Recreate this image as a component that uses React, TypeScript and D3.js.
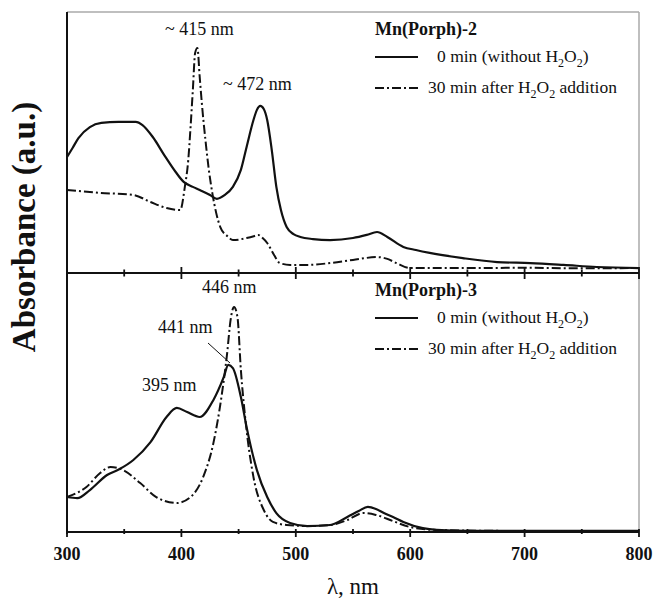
import React from "react";
import * as d3 from "d3";

// ---- Data (wavelength nm, absorbance a.u.) ----
const p2SolidX = [300, 305, 310, 320, 330, 345, 360, 366, 375, 385, 395, 402, 410, 416, 425, 431, 438, 445, 452, 457, 463, 466, 469, 472, 475, 479, 483, 487, 492, 498, 504, 515, 530, 550, 562, 571, 580, 594, 605, 617, 646, 676, 705, 734, 763, 800];
const p2SolidY = [0.444, 0.48, 0.517, 0.559, 0.575, 0.579, 0.579, 0.567, 0.521, 0.452, 0.387, 0.349, 0.33, 0.318, 0.299, 0.284, 0.299, 0.33, 0.395, 0.483, 0.586, 0.625, 0.64, 0.628, 0.586, 0.471, 0.33, 0.241, 0.176, 0.149, 0.138, 0.13, 0.126, 0.134, 0.146, 0.157, 0.138, 0.1, 0.088, 0.077, 0.057, 0.042, 0.038, 0.031, 0.023, 0.019];

const p2DashX = [300, 329, 358, 373, 387, 399, 403, 406, 408, 410, 412, 414, 416, 418, 421, 424, 427, 434, 440, 445, 457, 464, 467, 471, 475, 481, 486, 495, 510, 530, 550, 571, 580, 588, 600, 650, 700, 750, 800];
const p2DashY = [0.318, 0.307, 0.299, 0.272, 0.249, 0.241, 0.33, 0.433, 0.559, 0.701, 0.843, 0.862, 0.751, 0.644, 0.51, 0.395, 0.307, 0.176, 0.142, 0.126, 0.134, 0.142, 0.146, 0.134, 0.115, 0.069, 0.038, 0.031, 0.031, 0.038, 0.05, 0.061, 0.054, 0.038, 0.019, 0.019, 0.02, 0.018, 0.019];

const p3SolidX = [300, 309, 320, 335, 346, 358, 373, 387, 396, 405, 416, 428, 437, 441, 445, 452, 457, 466, 475, 483, 495, 510, 530, 545, 555, 563, 570, 577, 585, 594, 611, 623, 650, 700, 750, 800];
const p3SolidY = [0.135, 0.131, 0.162, 0.22, 0.243, 0.278, 0.347, 0.444, 0.479, 0.463, 0.444, 0.51, 0.598, 0.645, 0.633, 0.521, 0.405, 0.239, 0.135, 0.073, 0.035, 0.023, 0.027, 0.058, 0.081, 0.097, 0.089, 0.073, 0.058, 0.039, 0.015, 0.008, 0.004, 0.004, 0.004, 0.004];

const p3DashX = [300, 317, 329, 338, 349, 364, 378, 396, 408, 419, 428, 435, 440, 443, 446, 449, 452, 456, 463, 472, 480, 492, 510, 530, 545, 559, 570, 585, 600, 623, 700, 800];
const p3DashY = [0.135, 0.174, 0.228, 0.251, 0.239, 0.189, 0.135, 0.112, 0.135, 0.212, 0.344, 0.521, 0.691, 0.819, 0.869, 0.83, 0.625, 0.432, 0.212, 0.085, 0.039, 0.027, 0.023, 0.027, 0.046, 0.073, 0.066, 0.042, 0.019, 0.008, 0.004, 0.004];

const xTickLabels = [300, 400, 500, 600, 700, 800];
const xMinorTicks = [350, 450, 550, 650, 750];

const panelTitles = ["Mn(Porph)-2", "Mn(Porph)-3"];

const FONT = "'Liberation Serif', 'Times New Roman', serif";

const W = 655;
const H = 598;
const left = 67;
const right = 639;
const top = 12;
const mid = 273;
const bottom = 532;

const x = d3.scaleLinear().domain([300, 800]).range([left, right]);
const yTop = d3.scaleLinear().domain([0, 1]).range([mid, top]);
const yBot = d3.scaleLinear().domain([0, 1]).range([bottom, mid]);

function makePath(xs: number[], ys: number[], y: d3.ScaleLinear<number, number>) {
  const pts: [number, number][] = xs.map((v, i) => [v, ys[i]]);
  const line = d3
    .line<[number, number]>()
    .x((d) => x(d[0]))
    .y((d) => y(d[1]))
    .curve(d3.curveMonotoneX);
  return line(pts) || "";
}

const DASH = "9,3,2,3";

function Legend({ title, ty }: { title: string; ty: number }) {
  return (
    <g fontFamily={FONT} fill="#111">
      <text x={375} y={ty} fontSize={18} fontWeight="bold">{title}</text>
      <line x1={375} x2={418} y1={ty + 22} y2={ty + 22} stroke="#111" strokeWidth={2.2} />
      <text x={437} y={ty + 27} fontSize={17.5}>
        0 min (without H
        <tspan fontSize={12} dy={5}>2</tspan>
        <tspan dy={-5}>O</tspan>
        <tspan fontSize={12} dy={5}>2</tspan>
        <tspan dy={-5}>)</tspan>
      </text>
      <line x1={375} x2={418} y1={ty + 53} y2={ty + 53} stroke="#111" strokeWidth={2.2} strokeDasharray={DASH} />
      <text x={428} y={ty + 58} fontSize={17.5}>
        30 min after H
        <tspan fontSize={12} dy={5}>2</tspan>
        <tspan dy={-5}>O</tspan>
        <tspan fontSize={12} dy={5}>2</tspan>
        <tspan dy={-5}> addition</tspan>
      </text>
    </g>
  );
}

function AxisTicks({ y0, majorUp, majorDown, minorUp, minorDown }: { y0: number; majorUp: number; majorDown: number; minorUp: number; minorDown: number }) {
  return (
    <g stroke="#111" strokeWidth={1.8}>
      {xTickLabels.map((t) => (
        <line key={"M" + t} x1={x(t)} x2={x(t)} y1={y0 - majorUp} y2={y0 + majorDown} />
      ))}
      {xMinorTicks.map((t) => (
        <line key={"m" + t} x1={x(t)} x2={x(t)} y1={y0 - minorUp} y2={y0 + minorDown} />
      ))}
    </g>
  );
}

export default function App() {
  return (
    <svg width={W} height={H} style={{ position: "absolute", left: 0, top: 0, background: "#fff" }}>
      <rect x={0} y={0} width={W} height={H} fill="#fff" />
      {/* frame */}
      <line x1={left} x2={right} y1={top} y2={top} stroke="#aaa" strokeWidth={1.5} />
      <line x1={right} x2={right} y1={top} y2={bottom} stroke="#aaa" strokeWidth={1.5} />

      {/* curves */}
      <g fill="none" stroke="#111" strokeLinejoin="round">
        <path d={makePath(p2SolidX, p2SolidY, yTop)} strokeWidth={2.2} />
        <path d={makePath(p2DashX, p2DashY, yTop)} strokeWidth={2} strokeDasharray={DASH} />
        <path d={makePath(p3SolidX, p3SolidY, yBot)} strokeWidth={2.2} />
        <path d={makePath(p3DashX, p3DashY, yBot)} strokeWidth={2} strokeDasharray={DASH} />
      </g>

      {/* axes */}
      <line x1={left} x2={left} y1={top} y2={bottom + 2} stroke="#111" strokeWidth={2} />
      <line x1={left} x2={right} y1={mid} y2={mid} stroke="#111" strokeWidth={2} />
      <line x1={left} x2={right} y1={bottom} y2={bottom} stroke="#111" strokeWidth={2} />
      <AxisTicks y0={mid} majorUp={6} majorDown={6} minorUp={3.5} minorDown={3.5} />
      <AxisTicks y0={bottom} majorUp={3} majorDown={5} minorUp={3} minorDown={2} />

      {/* tick labels */}
      <g fontFamily={FONT} fontWeight="bold" fontSize={18} textAnchor="middle" fill="#111">
        {xTickLabels.map((t) => (
          <text key={t} x={x(t)} y={560}>{t}</text>
        ))}
      </g>
      <text x={353} y={594} fontFamily={FONT} fontSize={23} textAnchor="middle" fill="#111">λ, nm</text>
      <text
        transform="translate(35,227) rotate(-90)"
        fontFamily={FONT}
        fontWeight="bold"
        fontSize={33}
        textAnchor="middle"
        fill="#111"
      >
        Absorbance (a.u.)
      </text>

      {/* annotations */}
      <g fontFamily={FONT} fontSize={18} fill="#111">
        <text x={165} y={35}>~ 415 nm</text>
        <text x={223} y={90}>~ 472 nm</text>
        <text x={202} y={293}>446 nm</text>
        <text x={158} y={333}>441 nm</text>
        <text x={142} y={391}>395 nm</text>
      </g>
      <line x1={208} y1={343} x2={230} y2={363} stroke="#111" strokeWidth={1} />

      <Legend title={panelTitles[0]} ty={35} />
      <Legend title={panelTitles[1]} ty={296} />
    </svg>
  );
}
